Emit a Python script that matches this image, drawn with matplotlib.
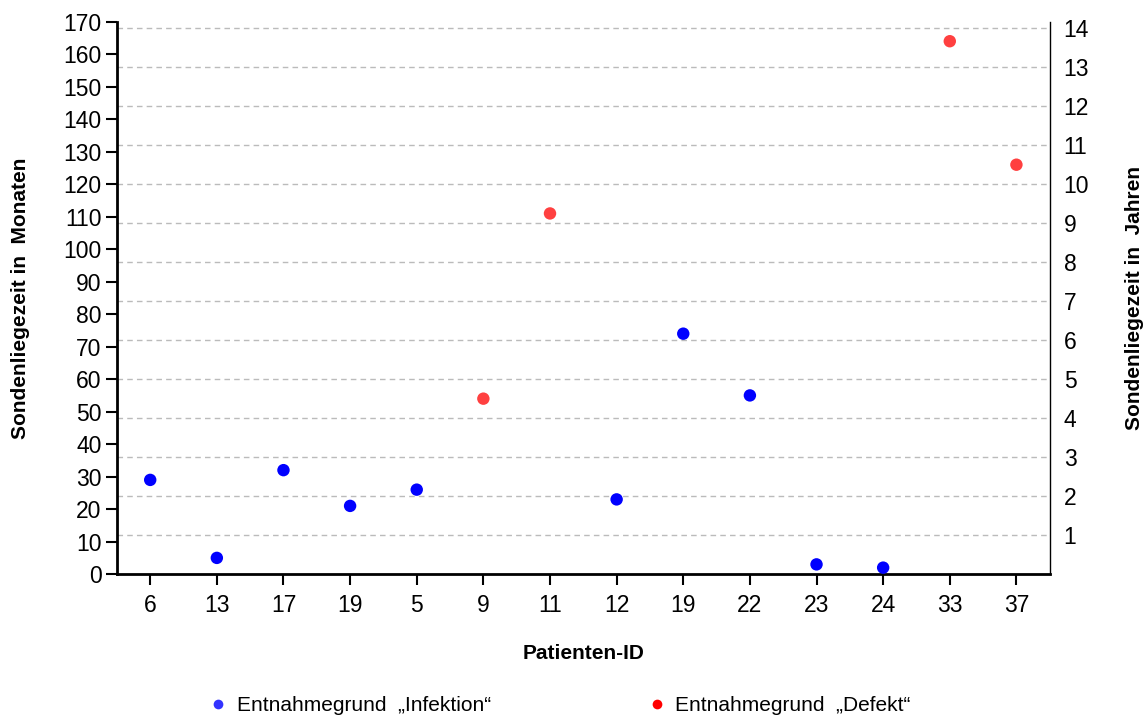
import matplotlib
matplotlib.use("Agg")
import matplotlib.pyplot as plt
from matplotlib.lines import Line2D
import numpy as np

plt.rcParams['font.family'] = ['Liberation Sans', 'DejaVu Sans']

# Patient IDs in plotting order and probe dwell time in months
patient_ids = ["6", "13", "17", "19", "5", "9", "11", "12", "19", "22", "23", "24", "33", "37"]
months = [29, 5, 32, 21, 26, 54, 111, 23, 74, 55, 3, 2, 164, 126]
reason = ["Infektion", "Infektion", "Infektion", "Infektion", "Infektion", "Defekt", "Defekt",
          "Infektion", "Infektion", "Infektion", "Infektion", "Infektion", "Defekt", "Defekt"]

colors = {"Infektion": "#0000FF", "Defekt": "#FF4040"}
legend_colors = {"Infektion": "#3333FF", "Defekt": "#FF0000"}

fig = plt.figure(figsize=(11.46, 7.24), dpi=100)
ax = fig.add_axes([0.102, 0.207, 0.814, 0.763])

x = np.arange(len(patient_ids))
ax.scatter(x, months, s=80, c=[colors[r] for r in reason], zorder=3, linewidths=0)

ax.set_xlim(-0.5, len(patient_ids) - 0.5)
ax.set_ylim(0, 170)
ax.set_yticks(np.arange(0, 171, 10))
ax.set_xticks(x)
ax.set_xticklabels(patient_ids)
ax.tick_params(axis='both', labelsize=16.5, length=8, width=1.5, color='black')
ax.tick_params(axis='x', pad=6)
ax.tick_params(axis='y', pad=3)

ax.spines['top'].set_visible(False)
ax.spines['right'].set_visible(False)
ax.spines['left'].set_linewidth(2)
ax.spines['bottom'].set_linewidth(2)

ax.set_xlabel("Patienten-ID", fontsize=15, fontweight='bold', labelpad=20)
ax.set_ylabel("Sondenliegezeit in  Monaten", fontsize=15, fontweight='bold', labelpad=24)

# Secondary axis in years with the grid at whole years
ax2 = ax.twinx()
ax2.set_ylim(0, 170 / 12)
ax2.set_yticks(np.arange(1, 15))
ax2.tick_params(axis='y', labelsize=16.5, length=0, pad=10)
ax2.spines['top'].set_visible(False)
ax2.spines['left'].set_visible(False)
ax2.spines['bottom'].set_visible(False)
ax2.spines['right'].set_linewidth(1)
ax2.spines['right'].set_bounds(0, 14.15)
ax2.grid(axis='y', color='#bbbbbb', linestyle=(0, (4, 3)), linewidth=1)
ax2.set_axisbelow(True)
ax2.set_ylabel("Sondenliegezeit in  Jahren", fontsize=15, fontweight='bold', labelpad=26)
ax.set_zorder(ax2.get_zorder() + 1)
ax.patch.set_visible(False)

handles = [Line2D([], [], marker='o', linestyle='none', markersize=7,
                  markerfacecolor=legend_colors[k], markeredgewidth=0) for k in ["Infektion", "Defekt"]]
labels = ["Entnahmegrund  \u201eInfektion\u201c", "Entnahmegrund  \u201eDefekt\u201c"]
fig.legend(handles, labels, loc='lower left', bbox_to_anchor=(0.163, -0.014), ncol=2,
           frameon=False, fontsize=15, handletextpad=0.3, columnspacing=7.35, handlelength=1.2)

fig.savefig("out.png", dpi=100)
